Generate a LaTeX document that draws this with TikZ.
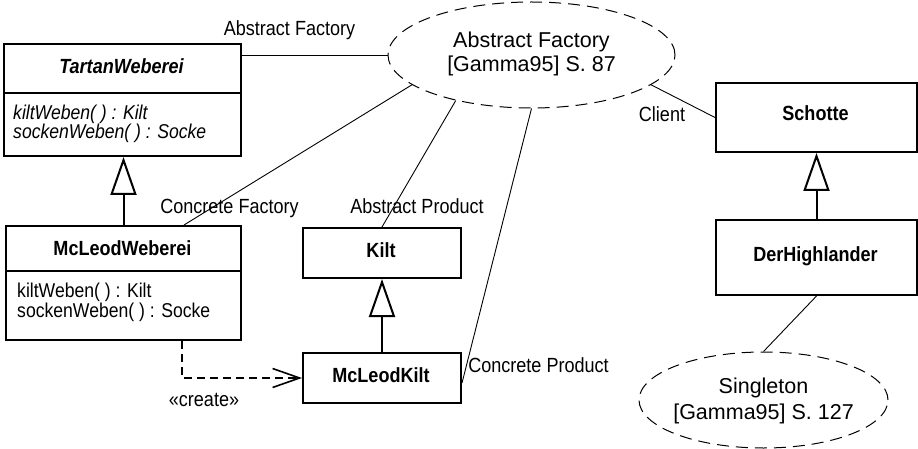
\documentclass[tikz,border=0pt]{standalone}
\usepackage{fontspec}
\setmainfont{Liberation Sans}
\newfontfamily\condfont[FakeStretch=0.88]{Liberation Sans}
\usetikzlibrary{shapes.geometric,arrows.meta}
\begin{document}
\begin{tikzpicture}[x=1pt,y=-1pt,
 box/.style={draw, line width=2pt, inner sep=0pt, anchor=north west},
 cname/.style={font=\condfont\fontsize{20.5}{18}\selectfont\bfseries, anchor=base, inner sep=0pt},
 meth/.style={font=\condfont\fontsize{20}{18}\selectfont, anchor=base west, inner sep=0pt, align=left},
 imeth/.style={meth, font=\condfont\fontsize{20}{18}\selectfont\itshape},
 lbl/.style={font=\condfont\fontsize{20.5}{18}\selectfont, anchor=base, inner sep=0pt},
 etext/.style={font=\fontsize{21.5}{26}\selectfont, anchor=base, inner sep=0pt},
 pattern/.style={draw, ellipse, line width=1pt, dash pattern=on 12pt off 7pt, inner sep=0pt},
 assoc/.style={line width=0.9pt},
 inherit/.style={line width=2pt, -{Triangle[open,length=38pt,width=26pt]}},
 dep/.style={line width=1.6pt, dash pattern=on 8pt off 5pt, -{Straight Barb[length=27pt,width=19pt]}},
 divider/.style={line width=2pt}]
\useasboundingbox (0,0) rectangle (918,449);

% TartanWeberei
\node[box, minimum width=237pt, minimum height=112pt] (tw) at (3,43) {};
\draw[divider] (tw.west |- 0,93) -- (tw.east |- 0,93);
\node[cname, font=\condfont\fontsize{20.5}{18}\selectfont\bfseries\itshape] (twn) at (121.5,74) {TartanWeberei};
% base anchor of a multi-line node is the baseline of its last line
\node[imeth] (twm) at (13,139) {kiltWeben( ) : Kilt\\sockenWeben( ) : Socke};

% McLeodWeberei
\node[box, minimum width=235pt, minimum height=114pt] (mw) at (5,225) {};
\draw[divider] (mw.west |- 0,271) -- (mw.east |- 0,271);
\node[cname] (mwn) at (122.5,255) {McLeodWeberei};
\node[meth] (mwm) at (17,317) {kiltWeben( ) : Kilt\\sockenWeben( ) : Socke};

% Kilt, McLeodKilt
\node[box, minimum width=158pt, minimum height=50pt] (kilt) at (302,227) {};
\node[cname] (kiltn) at (381,258) {Kilt};
\node[box, minimum width=158pt, minimum height=50pt] (mk) at (302,352) {};
\node[cname] (mkn) at (381,382) {McLeodKilt};

% Schotte, DerHighlander
\node[box, minimum width=201pt, minimum height=69pt] (sch) at (715,82) {};
\node[cname] (schn) at (815.5,121) {Schotte};
\node[box, minimum width=201pt, minimum height=75pt] (dh) at (715,219) {};
\node[cname] (dhn) at (815.5,261) {DerHighlander};

% pattern ellipses
\node[pattern, minimum width=287pt, minimum height=106pt] (af) at (531.5,55) {};
\node[etext] (af1) at (531.5,48) {Abstract Factory};
\node[etext] (af2) at (531.5,72) {[Gamma95] S. 87};
\node[pattern, minimum width=249pt, minimum height=96pt] (sg) at (763.5,400) {};
\node[etext] (sg1) at (763.5,393) {Singleton};
\node[etext] (sg2) at (763.5,419) {[Gamma95] S. 127};

% inheritance
\draw[inherit] (mw.north) -- (mw.north |- tw.south);
\draw[inherit] (mk.north) -- (kilt.south);
\draw[inherit] (dh.north) -- (sch.south);

% dependency
\draw[dep] ([xshift=58.5pt]mw.south) |- (mk.west);
\node[lbl] (create) at (204,406) {«create»};

% pattern role connectors
\draw[assoc] (af.west -| tw.east) -- (af.west);
\draw[assoc] ([xshift=60.5pt]mw.north) -- (af.194);
\draw[assoc] (kilt.north) -- (af.211);
\draw[assoc] ([yshift=-5pt]mk.east) -- (af.south);
\draw[assoc] (af.346.6) -- (sch.west);
\draw[assoc] (dh.south) -- (sg.north);

% role labels
\node[lbl] (l1) at (289.5,36) {Abstract Factory};
\node[lbl] (l2) at (229.5,214) {Concrete Factory};
\node[lbl] (l3) at (417,214) {Abstract Product};
\node[lbl] (l4) at (538.5,372) {Concrete Product};
\node[lbl] (l5) at (662,122) {Client};
\end{tikzpicture}
\end{document}
